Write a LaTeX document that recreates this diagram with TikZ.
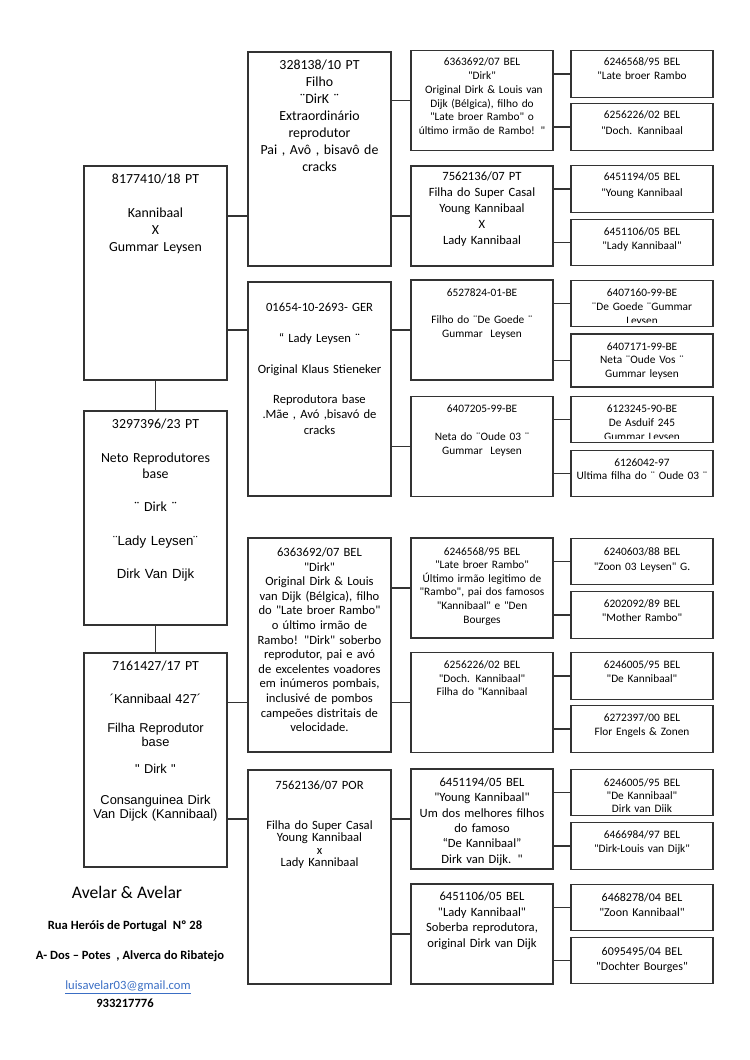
\documentclass[tikz,border=0pt]{standalone}
\usepackage{fontspec}
\setmainfont{Carlito}[Ligatures=TeXOff]
\newfontfamily\arialf{Liberation Sans}[Ligatures=TeXOff]
\usepackage{xcolor}
\definecolor{maillink}{RGB}{58,110,196}

\begin{document}
\begin{tikzpicture}[
    x=0.7937pt, y=-0.7937pt,
    box/.style={draw=black!80, line width=0.9pt, inner sep=0pt, minimum width=113.5pt},
    tall/.style={box, minimum height=169.9pt},
    mid/.style={box, minimum width=112.7pt, minimum height=79.4pt},
    leaf/.style={box, minimum width=112.7pt, minimum height=36.9pt},
    txt/.style={anchor=base, align=center, text width=125pt, inner sep=0pt},
    link/.style={draw=black!80, line width=0.9pt}
]
\useasboundingbox (0,0) rectangle (750,1060);

% own bird and parents
\node[tall, label={[txt, font=\fontsize{11}{13.5}\selectfont, yshift=-14.6pt]north:{8177410/18 PT\\[13.5pt]Kannibaal\\X\\Gummar Leysen}}] (A) at (155.5,273) {};
\node[tall, label={[txt, font=\fontsize{11}{13.2}\selectfont, yshift=-14.6pt]north:{3297396/23 PT\\[13.2pt]Neto Reprodutores\\base\\[13.2pt]¨ Dirk ¨\\[13.2pt]{\arialf\fontsize{10.5}{13.2}\selectfont ¨Lady Leysen¨}\\[13.2pt]{\arialf\fontsize{10.5}{13.2}\selectfont Dirk Van Dijk}}}] (B) at (155.5,518) {};
\node[tall, label={[txt, font=\arialf\fontsize{10.2}{11.2}\selectfont, yshift=-14.6pt]north:{{\rmfamily\fontsize{11}{11.2}\selectfont 7161427/17 PT}\\[15pt]´Kannibaal 427´\\[11.8pt]Filha Reprodutor\\base\\[10pt]" Dirk "\\[13.4pt]Consanguinea Dirk\\Van Dijck (Kannibaal)}}] (C) at (155.5,760) {};

% second generation
\node[tall, label={[txt, font=\fontsize{11}{13.5}\selectfont, yshift=-14.6pt]north:{328138/10 PT\\Filho\\¨DirK ¨\\Extraordinário\\reprodutor\\Pai , Avô , bisavô de\\cracks}}] (D) at (319.5,159) {};
\node[tall, label={[txt, font=\fontsize{10}{12.3}\selectfont, yshift=-23.8pt]north:{01654-10-2693- GER\\[12.3pt]“ Lady Leysen ¨\\[12.3pt]Original Klaus Stieneker\\[11.5pt]Reprodutora base\\.Mãe , Avó ,bisavó de\\cracks}}] (E) at (319.5,389) {};
\node[tall, label={[txt, font=\fontsize{10}{11.6}\selectfont, yshift=-15.1pt]north:{6363692/07 BEL\\"Dirk"\\Original Dirk \& Louis\\van Dijk (Bélgica), filho\\do "Late broer Rambo"\\o último irmão de\\Rambo! "Dirk" soberbo\\reprodutor, pai e avó\\de excelentes voadores\\em inúmeros pombais,\\inclusivé de pombos\\campeões distritais de\\velocidade.}}] (F) at (319.5,645) {};
\node[tall, label={[txt, font=\fontsize{10}{10}\selectfont, yshift=-15.9pt]north:{7562136/07 POR\\[21.5pt]Filha do Super Casal\\Young Kannibaal\\x\\Lady Kannibaal}}] (G) at (319.5,877) {};

% third generation
\node[mid, label={[txt, font=\fontsize{9}{11}\selectfont, yshift=-12.4pt]north:{6363692/07 BEL\\"Dirk"\\~Original Dirk \& Louis van\\Dijk (Bélgica), filho do\\"Late broer Rambo" o\\último irmão de Rambo! "}}] (H1) at (482,100.5) {};
\node[mid, label={[txt, font=\fontsize{10}{12.7}\selectfont, yshift=-11.9pt]north:{7562136/07 PT\\Filha do Super Casal\\Young Kannibaal\\X\\Lady Kannibaal}}] (H2) at (482,216) {};
\node[mid, label={[txt, font=\fontsize{9}{11}\selectfont, yshift=-13.2pt]north:{6527824-01-BE\\[11pt]Filho do ¨De Goede ¨\\Gummar~ Leysen}}] (H3) at (482,330) {};
\node[mid, label={[txt, font=\fontsize{9}{11}\selectfont, yshift=-13.2pt]north:{6407205-99-BE\\[11pt]Neta do ¨Oude 03 ¨\\Gummar~ Leysen}}] (H4) at (482,446.5) {};
\node[mid, label={[txt, font=\fontsize{9}{10.8}\selectfont, yshift=-14pt]north:{6246568/95 BEL\\"Late broer Rambo"\\Último irmão legitimo de\\"Rambo", pai dos famosos\\"Kannibaal" e "Den\\Bourges}}] (H5) at (482,588) {};
\node[mid, label={[txt, font=\fontsize{9}{10.8}\selectfont, yshift=-13.2pt]north:{6256226/02 BEL\\"Doch. Kannibaal"\\Filha do "Kannibaal}}] (H6) at (482,702.5) {};
\node[mid, label={[txt, font=\fontsize{10}{12.2}\selectfont, yshift=-14.3pt]north:{6451194/05 BEL\\"Young Kannibaal"\\Um dos melhores filhos\\do famoso\\“De Kannibaal”\\Dirk van Dijk. "}}] (H7) at (482,819) {};
\node[mid, label={[txt, font=\fontsize{10}{12.4}\selectfont, yshift=-13.5pt]north:{6451106/05 BEL\\"Lady Kannibaal"\\Soberba reprodutora,\\original Dirk van Dijk}}] (H8) at (482,934) {};

% fourth generation
\node[leaf, label={[txt, font=\fontsize{9}{11}\selectfont, yshift=-12.4pt]north:{6246568/95 BEL\\"Late broer Rambo}}] (I1) at (642,74) {};
\node[leaf, label={[txt, font=\fontsize{9}{12.5}\selectfont, yshift=-12.4pt]north:{6256226/02 BEL\\"Doch. Kannibaal}}] (I2) at (642,127) {};
\node[leaf, label={[txt, font=\fontsize{9}{12.5}\selectfont, yshift=-12.4pt]north:{6451194/05 BEL\\"Young Kannibaal}}] (I3) at (642,189) {};
\node[leaf, label={[txt, font=\fontsize{9}{11}\selectfont, yshift=-13.2pt]north:{6451106/05 BEL\\"Lady Kannibaal"}}] (I4) at (642,242.5) {};
\node[leaf, path picture={
    \clip ([yshift=3pt]path picture bounding box.south west) rectangle (path picture bounding box.north east);
    \node[txt, font=\fontsize{9}{11}\selectfont] at ([yshift=-13.2pt]path picture bounding box.north) {6407160-99-BE\\¨De Goede ¨Gummar\\Leysen};
}] (I5) at (642,303.5) {};
\node[leaf, minimum height=42.1pt, label={[txt, font=\fontsize{9}{10.8}\selectfont, yshift=-13.2pt]north:{6407171-99-BE\\Neta ¨Oude Vos ¨\\Gummar leysen}}] (I6) at (642,360.5) {};
\node[leaf, path picture={
    \clip ([yshift=3pt]path picture bounding box.south west) rectangle (path picture bounding box.north east);
    \node[txt, font=\fontsize{9}{11}\selectfont] at ([yshift=-13.2pt]path picture bounding box.north) {6123245-90-BE\\De Asduif 245\\Gummar Leysen};
}] (I7) at (642,419.5) {};
\node[leaf, label={[txt, font=\fontsize{9}{10.5}\selectfont, yshift=-13.2pt]north:{6126042-97\\Ultima filha do ¨ Oude 03 ¨}}] (I8) at (642,473.5) {};
\node[leaf, label={[txt, font=\fontsize{9}{11.8}\selectfont, yshift=-14pt]north:{6240603/88 BEL\\"Zoon 03 Leysen" G.}}] (I9) at (642,561.5) {};
\node[leaf, label={[txt, font=\fontsize{9}{11}\selectfont, yshift=-13.2pt]north:{6202092/89 BEL\\"Mother Rambo"}}] (I10) at (642,615) {};
\node[leaf, label={[txt, font=\fontsize{9}{10.5}\selectfont, yshift=-13.2pt]north:{6246005/95 BEL\\"De Kannibaal"}}] (I11) at (642,676) {};
\node[leaf, label={[txt, font=\fontsize{9}{10.5}\selectfont, yshift=-13.2pt]north:{6272397/00 BEL\\Flor Engels \& Zonen}}] (I12) at (642,729) {};
\node[leaf, path picture={
    \clip ([yshift=3pt]path picture bounding box.south west) rectangle (path picture bounding box.north east);
    \node[txt, font=\fontsize{9}{10}\selectfont] at ([yshift=-14pt]path picture bounding box.north) {6246005/95 BEL\\"De Kannibaal"\\Dirk van Dijk};
}] (I13) at (642,792.5) {};
\node[leaf, label={[txt, font=\fontsize{9}{11}\selectfont, yshift=-13.2pt]north:{6466984/97 BEL\\"Dirk-Louis van Dijk"}}] (I14) at (642,846) {};
\node[leaf, label={[txt, font=\fontsize{9.5}{11.8}\selectfont, yshift=-14pt]north:{6468278/04 BEL\\"Zoon Kannibaal"}}] (I15) at (642,907.5) {};
\node[leaf, label={[txt, font=\fontsize{9.5}{11.8}\selectfont, yshift=-14.8pt]north:{6095495/04 BEL\\"Dochter Bourges"}}] (I16) at (642,960.5) {};

% breeder
\node[font=\fontsize{14}{16}\selectfont] (firm) at (127,892) {Avelar \& Avelar};
\node[font=\bfseries\fontsize{10}{12}\selectfont] (street) at (125,926) {Rua Heróis de Portugal~ Nº 28};
\node[font=\bfseries\fontsize{10}{12}\selectfont] (town) at (130,956) {A- Dos – Potes~ , Alverca do Ribatejo};
\node[font=\fontsize{10}{12}\selectfont, text=maillink] (mail) at (128,987) {\underline{luisavelar03@gmail.com}};
\node[font=\bfseries\fontsize{10}{12}\selectfont] (phone) at (125,1003) {933217776};

% lines
\draw[link] (A.south) -- (B.north);
\draw[link] (B.south) -- (C.north);
\draw[link] (A.east |- H2.west) -- (D.west |- H2.west);
\draw[link] (A.east |- H3.west) -- (E.west |- H3.west);
\draw[link] (C.east |- H6.west) -- (F.west |- H6.west);
\draw[link] (C.east |- H7.west) -- (G.west |- H7.west);

\draw[link] (D.east |- H1.west) -- (H1.west);
\draw[link] (D.east |- H2.west) -- (H2.west);
\draw[link] (E.east |- H3.west) -- (H3.west);
\draw[link] (E.east |- H4.west) -- (H4.west);
\draw[link] (F.east |- H5.west) -- (H5.west);
\draw[link] (F.east |- H6.west) -- (H6.west);
\draw[link] (G.east |- H7.west) -- (H7.west);
\draw[link] (G.east |- H8.west) -- (H8.west);

\draw[link] (H1.east |- I1.west) -- (I1.west);
\draw[link] (H1.east |- I2.west) -- (I2.west);
\draw[link] (H2.east |- I3.west) -- (I3.west);
\draw[link] (H2.east |- I4.west) -- (I4.west);
\draw[link] (H3.east |- I5.west) -- (I5.west);
\draw[link] (H3.east |- I6.west) -- (I6.west);
\draw[link] (H4.east |- I7.west) -- (I7.west);
\draw[link] (H4.east |- I8.west) -- (I8.west);
\draw[link] (H5.east |- I9.west) -- (I9.west);
\draw[link] (H5.east |- I10.west) -- (I10.west);
\draw[link] (H6.east |- I11.west) -- (I11.west);
\draw[link] (H6.east |- I12.west) -- (I12.west);
\draw[link] (H7.east |- I13.west) -- (I13.west);
\draw[link] (H7.east |- I14.west) -- (I14.west);
\draw[link] (H8.east |- I15.west) -- (I15.west);
\draw[link] (H8.east |- I16.west) -- (I16.west);
\end{tikzpicture}
\end{document}
